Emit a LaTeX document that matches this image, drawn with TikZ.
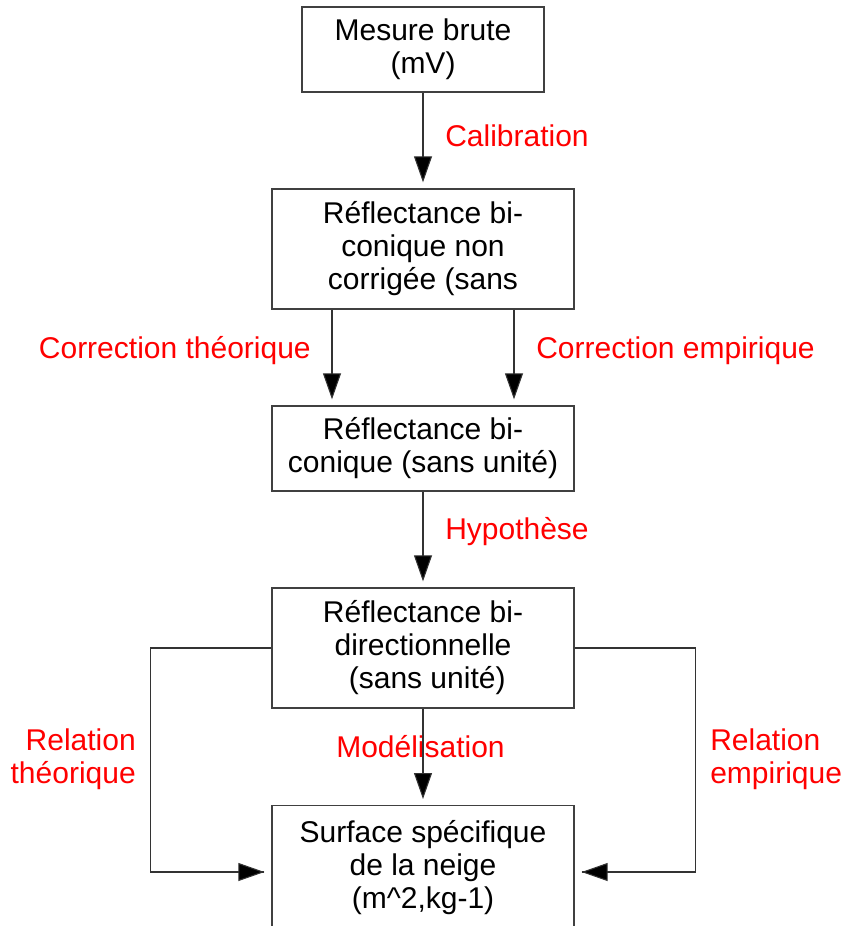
\documentclass[tikz,border=0pt]{standalone}
\usepackage{fontspec}
\setmainfont{Liberation Sans}
\usetikzlibrary{arrows.meta,calc}
\begin{document}
\begin{tikzpicture}[x=0.75pt,y=-0.75pt,
  every node/.style={inner sep=0pt,font=\fontsize{22.5}{24.75}\selectfont},
  box/.style={draw=black!75,line width=1pt,minimum width=226.5pt,align=center},
  lbl/.style={text=red},
  arr/.style={draw=black!80,line width=0.8pt,-{Triangle[width=13.5pt,length=19.5pt,fill=black]}},
  link/.style={draw=black!80,line width=0.8pt}]
\useasboundingbox (0,0) rectangle (845,926);
\clip (0,0) rectangle (845,926);
\node[box,minimum width=181.5pt,minimum height=63.75pt] (b1) at (423,49.5) {Mesure brute\\(mV)};
\node[box,minimum height=90pt] (b2) at (423,249) {Réflectance bi-\\conique non\\corrigée (sans};
\node[box,minimum height=63.75pt] (b3) at (423,448.5) {Réflectance bi-\\conique (sans unité)};
\node[box,minimum height=90pt] (b4) at (423,648) {Réflectance bi-\\directionnelle\hspace*{0.28em}\\\hspace*{0.28em}(sans unité)};
\node[box,minimum height=93pt,anchor=north] (b5) at (423,805) {Surface spécifique\\de la neige\\(m\textasciicircum 2,kg-1)};

\node[lbl,anchor=base west] (l1) at (445,146) {Calibration};
\node[lbl,anchor=base east] (l2) at (311,358) {Correction théorique};
\node[lbl,anchor=base west] (l3) at (536,358) {Correction empirique};
\node[lbl,anchor=base west] (l4) at (445,539) {Hypothèse};
\node[lbl,align=right,anchor=east] (l6) at (136,759.5) {Relation\\théorique};
\node[lbl,align=left,anchor=west] (l7) at (710,759.5) {Relation\\empirique};

\draw[arr,shorten >=4.5pt] (b1.south) -- (b2.north);
\draw[arr,shorten >=4.5pt] ($(b2.south)+(-91,0)$) -- ($(b3.north)+(-91,0)$);
\draw[arr,shorten >=4.5pt] ($(b2.south)+(91,0)$) -- ($(b3.north)+(91,0)$);
\draw[arr,shorten >=4.5pt] (b3.south) -- (b4.north);
\node[lbl,anchor=base] (l5) at (420.5,757) {Modélisation};
\draw[arr,shorten >=4.5pt] (b4.south) -- (b5.north);
\coordinate (lt) at ($(b5.north west)+(-7,67)$);
\coordinate (rt) at ($(b5.north east)+(7,67)$);
\draw[link] (b4.west) -- ++(-121,0) |- (lt);
\draw[arr] ($(b4.west)+(-121,224)$) -- (lt);
\draw[link] (b4.east) -- ++(121,0) |- (rt);
\draw[arr] ($(b4.east)+(121,224)$) -- (rt);
\end{tikzpicture}
\end{document}
